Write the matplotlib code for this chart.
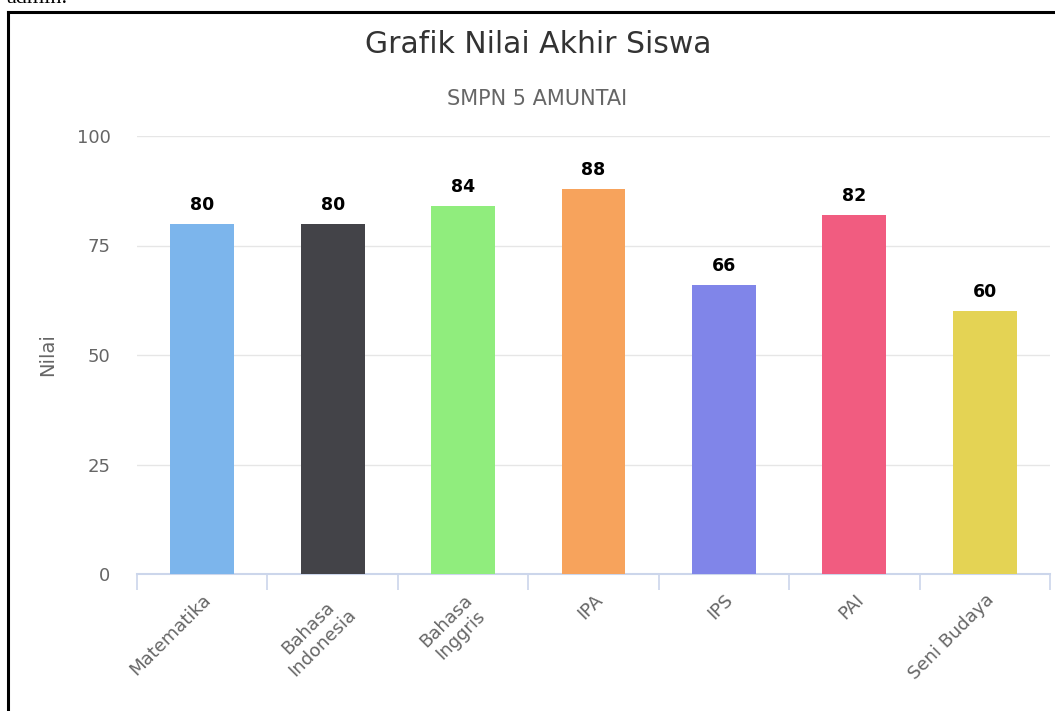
import matplotlib
matplotlib.use("Agg")
import matplotlib.pyplot as plt
from matplotlib.lines import Line2D

plt.rcParams['font.family'] = ['DejaVu Sans']

# data
mapel = ["Matematika", "Bahasa\nIndonesia", "Bahasa\nInggris", "IPA", "IPS", "PAI", "Seni Budaya"]
nilai = [80, 80, 84, 88, 66, 82, 60]
warna = ["#7cb5ec", "#434348", "#90ed7d", "#f7a35c", "#8085e9", "#f15c80", "#e4d354"]
y_ticks = [0, 25, 50, 75, 100]

W, H = 1055, 711
fig = plt.figure(figsize=(W / 100, H / 100), dpi=100)

ax = fig.add_axes([137 / W, 1 - 574 / H, (1050 - 137) / W, (574 - 136) / H])

x = list(range(len(mapel)))
bars = ax.bar(x, nilai, width=0.49, color=warna, zorder=3)
for xi, v in zip(x, nilai):
    ax.annotate(str(v), (xi, v), xytext=(0, 10), textcoords="offset pixels",
                ha="center", va="bottom", fontsize=12.5, fontweight="bold", color="black")

ax.set_xlim(-0.5, len(mapel) - 0.5)
ax.set_ylim(0, 100)
ax.set_yticks(y_ticks)
ax.yaxis.grid(True, color="#e6e6e6", linewidth=1, zorder=0)
ax.tick_params(axis="y", length=0, labelsize=13, labelcolor="#666666", pad=19)

# category boundary ticks
ax.set_xticks([i - 0.5 for i in range(len(mapel) + 1)])
ax.set_xticklabels([])
ax.tick_params(axis="x", length=11.5, width=1.2, color="#ccd6eb")
ax.set_xticks(x, minor=True)
ax.set_xticklabels(mapel, minor=True, rotation=45, ha="right", rotation_mode="anchor",
                   fontsize=13, color="#666666", multialignment="center")
ax.tick_params(axis="x", which="minor", length=0, pad=12)

for s in ["top", "right", "left"]:
    ax.spines[s].set_visible(False)
ax.spines["bottom"].set_color("#ccd6eb")
ax.spines["bottom"].set_linewidth(1.5)

ax.set_ylabel("Nilai", fontsize=14, color="#666666", labelpad=14)

fig.text(538 / W, 1 - 53 / H, "Grafik Nilai Akhir Siswa", ha="center", va="baseline",
         fontsize=21.5, color="#333333")
fig.text(537 / W, 1 - 105 / H, "SMPN 5 AMUNTAI", ha="center", va="baseline",
         fontsize=15, color="#666666")

# screenshot frame
fig.add_artist(Line2D([7.5 / W, 1], [1 - 12 / H, 1 - 12 / H], transform=fig.transFigure,
                      color="black", linewidth=2.2))
fig.add_artist(Line2D([7.5 / W, 7.5 / W], [0, 1 - 12 / H], transform=fig.transFigure,
                      color="black", linewidth=2.2))
fig.text(6 / W, 1 - 3 / H, "admin.", ha="left", va="baseline", fontsize=16,
         family="Liberation Serif", color="black")

fig.savefig("out.png", dpi=100)
